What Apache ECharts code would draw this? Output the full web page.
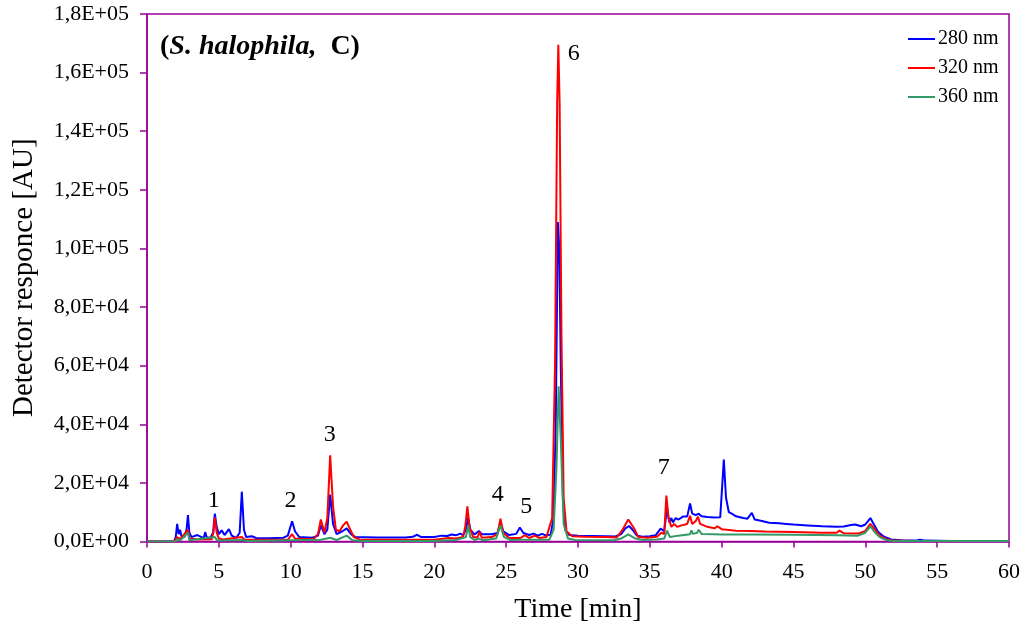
<!DOCTYPE html>
<html>
<head>
<meta charset="utf-8">
<script src="https://cdn.jsdelivr.net/npm/echarts@6/dist/echarts.min.js"></script>
<style>html,body{margin:0;padding:0;background:#fff;}#c{width:1032px;height:633px;}</style>
</head>
<body>
<div id="c"></div>
<script>
// ---- data (time [min], detector response [AU]) ----
var seriesNames = ['280 nm', '320 nm', '360 nm'];
var xTicks = [0, 5, 10, 15, 20, 25, 30, 35, 40, 45, 50, 55, 60];
var yTicks = [0, 20000, 40000, 60000, 80000, 100000, 120000, 140000, 160000, 180000];

var nm280 = [[0,0],[1.5,0],[1.9,200],[2.0,1500],[2.1,6000],[2.2,2500],[2.3,4000],[2.4,1800],[2.6,1500],[2.75,4000],[2.85,9000],[2.95,3000],[3.1,1500],[3.5,2200],[3.8,1500],[3.95,1200],[4.05,3200],[4.15,1500],[4.4,1200],[4.6,3000],[4.72,9500],[4.85,5000],[5.0,2500],[5.2,3800],[5.4,2200],[5.7,4200],[5.9,2000],[6.2,1200],[6.45,3000],[6.6,17000],[6.75,4000],[6.9,1500],[7.3,1800],[7.6,1200],[8.5,1100],[9.5,1300],[9.8,2000],[10.1,6900],[10.3,3500],[10.6,1500],[11.5,1300],[11.9,2000],[12.1,5500],[12.35,2500],[12.55,4000],[12.75,16000],[12.95,6000],[13.2,2500],[13.6,3500],[13.9,4500],[14.2,2500],[14.5,1500],[16,1400],[18,1400],[18.5,1600],[18.8,2300],[19.1,1500],[20,1500],[20.5,2000],[20.9,1900],[21.2,2400],[21.5,2100],[21.8,2700],[22.0,2200],[22.2,4000],[22.35,8200],[22.5,4000],[22.8,2400],[23.1,3600],[23.3,2500],[23.7,2500],[24.0,2500],[24.4,2900],[24.6,6500],[24.8,3500],[25.2,2200],[25.7,2600],[25.95,4800],[26.2,2900],[26.6,2200],[26.9,2700],[27.2,2000],[27.5,2600],[27.8,2000],[28.1,2400],[28.3,8000],[28.45,40000],[28.6,109000],[28.7,100000],[28.8,60000],[28.95,15000],[29.1,4000],[29.4,2200],[30,2000],[31,1900],[32,1800],[32.6,1700],[33.0,2500],[33.3,4500],[33.55,5300],[33.8,4000],[34.1,2000],[34.5,1600],[35,1800],[35.4,2100],[35.75,4400],[36.0,3500],[36.2,11500],[36.35,6500],[36.5,8000],[36.6,6500],[36.8,8000],[37.0,7500],[37.3,8500],[37.6,8500],[37.8,13000],[37.95,9500],[38.2,9000],[38.4,9500],[38.6,8600],[39,8400],[39.5,8200],[39.9,8300],[40.05,20000],[40.15,28000],[40.3,15000],[40.5,10000],[40.7,9500],[41.0,8600],[41.5,8000],[41.8,7800],[42.1,9800],[42.3,7500],[42.8,7000],[43.3,6400],[44,6200],[44.5,6000],[45,5800],[46,5500],[47,5200],[48,5000],[48.5,5100],[49.0,5600],[49.3,5800],[49.7,5200],[50.0,5800],[50.35,8000],[50.6,5800],[50.9,3200],[51.3,1600],[51.8,700],[52.5,400],[53.5,300],[53.8,600],[54.2,300],[56,200],[60,200]];

var nm320 = [[0,0],[1.9,0],[2.1,1500],[2.3,800],[2.85,4000],[2.95,1000],[3.5,700],[4.5,800],[4.62,3000],[4.72,8200],[4.85,3000],[5.0,1000],[5.3,700],[6.6,1500],[6.8,600],[9.8,600],[10.1,2500],[10.3,1000],[11.6,800],[11.9,2500],[12.1,7500],[12.35,3000],[12.55,8000],[12.75,29400],[12.95,12000],[13.15,4000],[13.4,3500],[13.65,5500],[13.9,6800],[14.1,4500],[14.4,1500],[14.8,700],[18,600],[20,600],[21.0,1200],[21.5,1000],[22.0,1500],[22.15,5000],[22.3,12000],[22.45,5000],[22.7,1500],[23.0,1400],[23.15,3300],[23.3,1300],[24.0,1500],[24.4,2500],[24.6,7800],[24.8,3000],[25.2,1200],[26.0,1200],[26.3,2200],[26.6,1200],[27.0,2000],[27.3,1200],[27.8,1500],[28.2,8000],[28.4,60000],[28.55,150000],[28.63,169500],[28.72,150000],[28.85,70000],[29.0,15000],[29.2,3500],[29.6,1800],[30.5,1600],[32,1500],[32.7,1400],[33.1,4000],[33.5,7500],[33.9,4500],[34.2,1500],[34.8,1300],[35.5,1600],[35.8,3000],[36.0,2500],[36.15,15700],[36.3,8000],[36.5,5000],[36.7,6000],[36.9,5000],[37.2,5500],[37.6,6000],[37.8,8800],[37.95,6000],[38.2,7000],[38.35,8500],[38.5,6000],[39,5000],[39.5,4500],[39.7,5200],[40,4200],[41,3700],[42,3600],[43,3400],[45,3200],[47,3000],[48.0,3000],[48.2,3700],[48.5,2800],[49.5,2700],[50.0,3600],[50.35,6000],[50.6,4500],[51,2000],[51.5,700],[52,300],[53.5,200],[60,200]];

var nm360 = [[0,0],[2.0,0],[2.1,800],[2.3,300],[2.85,3000],[2.95,400],[4.72,1500],[4.9,300],[6.6,500],[7,200],[12.1,600],[12.75,1300],[13.2,500],[13.9,2000],[14.3,400],[15,200],[20,200],[21.5,500],[22.2,1500],[22.35,5500],[22.5,1500],[22.8,500],[23.1,1000],[23.4,400],[24.3,1000],[24.6,5500],[24.85,1500],[25.3,500],[26.0,600],[27,600],[28.0,600],[28.3,4000],[28.5,25000],[28.65,53000],[28.8,35000],[29.0,6000],[29.3,1000],[29.8,500],[32.5,400],[33.0,1000],[33.5,2400],[34.0,1000],[34.5,500],[35.5,700],[36.0,1000],[36.2,3700],[36.4,1500],[37,2000],[37.8,2500],[37.9,3800],[38.0,2600],[38.3,3000],[38.4,4000],[38.6,2600],[39.5,2500],[40,2400],[42,2400],[45,2300],[48,2100],[49.5,2000],[50.0,3000],[50.35,5200],[50.6,3500],[51,1500],[51.5,400],[52,200],[60,200]];

var peakLabels = [[4.64,13800,'1'],[9.99,13800,'2'],[12.72,36600,'3'],[24.42,15900,'4'],[26.40,11800,'5'],[29.70,166400,'6'],[35.97,25100,'7']];

// ---- chart ----
var FONT = '"Liberation Serif", "DejaVu Serif", serif';
var PURPLE = '#990099';
function sci(v) {
  if (v === 0) return '0,0E+00';
  var e = Math.floor(Math.log10(v) + 1e-9);
  var m = v / Math.pow(10, e);
  return m.toFixed(1).replace('.', ',') + 'E+' + (e < 10 ? '0' : '') + e;
}
var chart = echarts.init(document.getElementById('c'), null, {renderer: 'canvas'});
chart.setOption({
  animation: false,
  backgroundColor: '#ffffff',
  title: {
    left: 155, top: 28,
    text: '{a|(}{b|S. halophila,}{a|  C)}',
    textStyle: {
      rich: {
        a: {fontFamily: FONT, fontSize: 28, fontWeight: 'bold', color: '#000'},
        b: {fontFamily: FONT, fontSize: 28, fontWeight: 'bold', fontStyle: 'italic', color: '#000'}
      }
    }
  },
  legend: {
    data: seriesNames,
    orient: 'vertical',
    left: 903, top: 24,
    icon: 'rect',
    itemWidth: 27, itemHeight: 2, itemGap: 9,
    textStyle: {fontFamily: FONT, fontSize: 20, color: '#000', lineHeight: 20, padding: [0, 0, 0, -2]}
  },
  grid: {left: 147, right: 23, top: 14, bottom: 91.5, show: true, borderColor: PURPLE, borderWidth: 1.5, containLabel: false},
  xAxis: {
    type: 'value', min: 0, max: 60, interval: 5,
    name: 'Time [min]', nameLocation: 'middle', nameGap: 54,
    nameTextStyle: {fontFamily: FONT, fontSize: 28, color: '#000'},
    axisLine: {show: true, lineStyle: {color: PURPLE, width: 1.5}},
    axisTick: {show: true, inside: false, length: 6, lineStyle: {color: PURPLE, width: 1.5}},
    axisLabel: {fontFamily: FONT, fontSize: 22, color: '#000', margin: 20},
    splitLine: {show: false}
  },
  yAxis: {
    type: 'value', min: 0, max: 180000, interval: 20000,
    name: 'Detector responce [AU]', nameLocation: 'middle', nameGap: 108,
    nameTextStyle: {fontFamily: FONT, fontSize: 29, color: '#000'},
    axisLine: {show: true, lineStyle: {color: PURPLE, width: 1.5}},
    axisTick: {show: true, inside: false, length: 7, lineStyle: {color: PURPLE, width: 1.5}},
    axisLabel: {fontFamily: FONT, fontSize: 22, color: '#000', margin: 18, formatter: sci},
    splitLine: {show: false}
  },
  series: [
    {name: seriesNames[0], type: 'line', data: nm280, symbol: 'none', lineStyle: {color: '#0000ff', width: 2}, itemStyle: {color: '#0000ff'}, z: 2},
    {name: seriesNames[1], type: 'line', data: nm320, symbol: 'none', lineStyle: {color: '#ff0000', width: 2}, itemStyle: {color: '#ff0000'}, z: 3},
    {name: seriesNames[2], type: 'line', data: nm360, symbol: 'none', lineStyle: {color: '#339966', width: 2}, itemStyle: {color: '#339966'}, z: 4},
    {name: 'peaks', type: 'scatter', symbolSize: 1, itemStyle: {color: 'rgba(0,0,0,0)'}, z: 5, silent: true,
      data: peakLabels.map(function (p) { return {value: [p[0], p[1]], name: p[2]}; }),
      label: {show: true, position: 'inside', formatter: function (p) { return p.name; }, fontFamily: FONT, fontSize: 24, color: '#000000', textBorderWidth: 0, textBorderColor: 'transparent', opacity: 1}}
  ]
});
</script>
</body>
</html>
